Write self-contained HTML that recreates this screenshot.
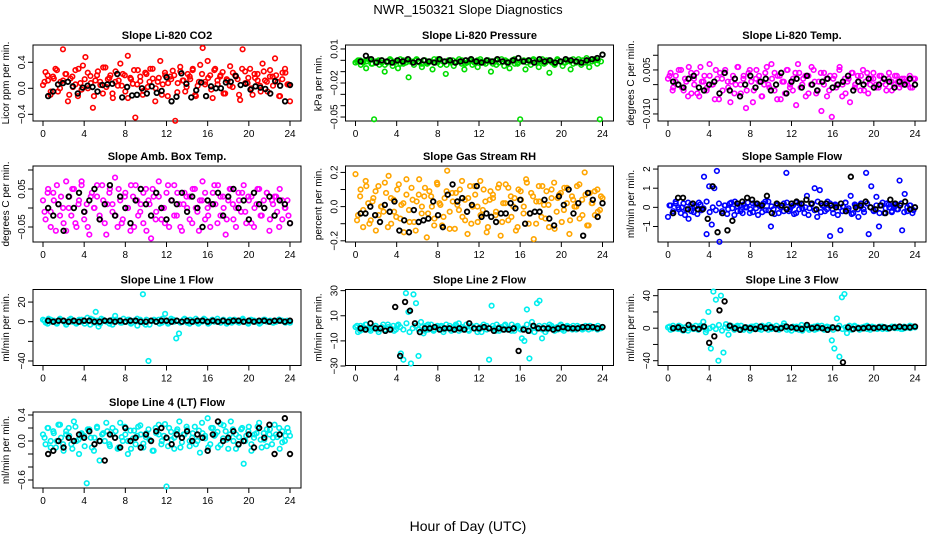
<!DOCTYPE html>
<html><head><meta charset="utf-8"><style>
html,body{margin:0;padding:0;background:#fff}
svg{display:block;font-family:"Liberation Sans",sans-serif}
</style></head><body>
<svg id="chart" width="936" height="540" viewBox="0 0 936 540" xmlns="http://www.w3.org/2000/svg">
<text x="468" y="14" text-anchor="middle" font-size="13">NWR_150321  Slope Diagnostics</text>
<text x="468" y="531" text-anchor="middle" font-size="14">Hour of Day (UTC)</text>
</svg>
<script>
const xTicks=[0,4,8,12,16,20,24];
const titles=["Slope Li-820 CO2","Slope Li-820 Pressure","Slope Li-820 Temp.","Slope Amb. Box Temp.","Slope Gas Stream RH","Slope Sample Flow","Slope Line 1 Flow","Slope Line 2 Flow","Slope Line 3 Flow","Slope Line 4 (LT) Flow"];
const yLabels=["Licor ppm per min.","kPa per min.","degrees C per min.","degrees C per min.","percent per min.","ml/min per min.","ml/min per min.","ml/min per min.","ml/min per min.","ml/min per min."];
const yTicks=[[-0.4,0,0.4],[0.01,0,-0.01,-0.02,-0.03,-0.04,-0.05],[0.01,0.005,0,-0.005,-0.01],[0.1,0.05,0,-0.05],[0.2,0.1,0,-0.1,-0.2],[2,1,0,-1],[20,0,-20,-40],[30,10,-10,-30],[40,20,0,-20,-40],[0.4,0.2,0,-0.2,-0.4,-0.6]];
const yTickLabels=[["−0.4","0.0","0.4"],["0.01","","","−0.02","","","−0.05"],["","0.005","","","−0.010"],["","0.05","","−0.05"],["0.2","","0.0","","−0.2"],["2","1","0","−1"],["20","0","","−40"],["30","10","−10","−30"],["40","","0","","−40"],["0.4","","0.0","","","−0.6"]];
const yMin=[-0.503,-0.0535,-0.0124,-0.0895,-0.207,-1.81,-44.6,-29.6,-45.9,-0.723];
const yMax=[0.666,0.0135,0.0135,0.1105,0.2376,2.16,32.8,30.9,47.6,0.446];
const colors=["#ff0000","#00dd00","#ff00ff","#ff00ff","#ffa500","#0000ff","#00eeee","#00eeee","#00eeee","#00eeee"];
const co2=[0.05,0.25,0.12,-0.1,0.18,0.3,-0.05,0.1,0.6,0.22,-0.2,0.15,0.02,0.28,-0.12,0.08,0.35,0.48,0.0,0.19,-0.3,0.12,0.26,0.05,-0.08,0.32,0.14,0.2,-0.15,0.1,0.04,0.38,0.22,-0.05,0.5,0.16,0.07,-0.45,0.28,0.11,-0.1,0.24,0.02,0.3,0.15,-0.2,0.1,0.42,0.06,0.2,-0.12,0.18,0.27,-0.5,0.08,0.33,0.12,-0.05,0.22,0.14,0.28,-0.1,0.04,0.36,0.62,0.1,0.42,0.2,-0.15,0.3,0.06,0.18,0.25,-0.08,0.12,0.34,0.02,0.2,0.14,-0.18,0.6,0.26,0.08,0.3,-0.1,0.16,0.22,0.04,0.38,0.12,-0.05,0.28,0.18,0.46,0.1,-0.12,0.24,0.3,0.06,-0.2];
const co2B=[0.1,0.2,-0.05,0.15,0.28,0.0,0.12,0.22,-0.1,0.18,0.06,0.3,-0.02,0.14,0.24,0.08,-0.12,0.2,0.1,0.32,0.02,0.16,-0.08,0.26,0.12,0.04,0.2,-0.15,0.14,0.28,0.06,0.18,-0.04,0.22,0.1,0.3,0.0,0.16,-0.1,0.24,0.08,0.14,0.2,-0.06,0.26,0.12,0.02,0.18,0.3,-0.12,0.1,0.22,0.06,0.16,-0.02,0.28,0.12,0.2,-0.08,0.14,0.04,0.24,0.18,-0.1,0.3,0.08,0.16,0.0,0.22,0.12,-0.05,0.26,0.1,0.18,0.04,0.2,-0.12,0.14,0.24,0.06];
const co2Black=[-0.12,-0.05,0.06,0.08,0.1,0.03,-0.08,0.01,0.04,0.02,-0.05,0.05,0.06,0.07,0.22,-0.14,0.02,-0.11,-0.1,0.0,-0.08,0.03,-0.07,-0.04,0.17,-0.2,-0.13,0.23,0.07,-0.14,-0.03,0.09,-0.12,0.03,0.0,0.0,0.09,0.1,0.19,0.05,0.07,-0.02,0.03,0.01,-0.01,-0.08,0.11,0.04,-0.2,0.05];
const press=[-0.002,0.0,-0.004,-0.001,-0.007,0.001,-0.003,-0.052,-0.001,-0.004,0.0,-0.01,-0.002,0.001,-0.005,-0.001,-0.007,-0.003,0.0,-0.002,-0.015,-0.001,-0.004,0.001,-0.002,-0.006,0.0,-0.003,-0.001,-0.008,-0.002,0.001,-0.004,-0.001,-0.012,0.0,-0.002,-0.005,-0.001,0.001,-0.003,-0.008,-0.002,0.0,-0.004,-0.001,-0.006,0.001,-0.002,-0.003,0.0,-0.01,-0.001,-0.004,-0.002,0.001,-0.005,-0.001,-0.007,0.0,-0.003,-0.002,-0.052,-0.001,-0.008,0.0,-0.004,0.001,-0.002,-0.006,-0.001,-0.003,0.0,-0.011,-0.002,-0.004,0.001,-0.001,-0.005,-0.002,0.0,-0.008,-0.003,-0.001,0.001,-0.004,-0.002,0.002,-0.006,-0.001,0.0,-0.003,-0.052,0.005];
const pressB=[-0.001,0.0,-0.002,-0.001,0.001,-0.003,-0.001,0.0,-0.002,-0.004,-0.001,0.0,-0.002,-0.001,0.001,-0.003,0.0,-0.001,-0.002,0.0,-0.001,-0.003,0.0,-0.002,-0.001,0.001,-0.002,0.0,-0.001,-0.004,-0.001,0.0,-0.002,-0.001,0.0,-0.003,-0.001,0.001,-0.002,0.0,-0.001,-0.002,0.0,-0.001,-0.003,0.0,-0.002,-0.001,0.0,-0.002,-0.001,0.001,-0.003,-0.001,0.0,-0.002,-0.001,0.0,-0.002,-0.001,0.001,-0.002,0.0,-0.001,-0.003,0.0,-0.001,-0.002,0.0,-0.001,0.001,-0.002,-0.001,0.0,-0.002,0.0,-0.001,0.001,0.0,-0.001];
const pressBlack=[-0.001,0.004,0.001,-0.002,0.0,-0.001,-0.002,0.0,-0.001,0.001,-0.002,-0.001,0.0,-0.001,-0.002,0.001,-0.001,0.0,-0.002,-0.001,0.0,0.001,-0.001,-0.002,0.0,-0.001,0.001,-0.001,-0.002,0.0,0.002,-0.001,0.0,-0.002,0.001,-0.001,0.0,-0.002,-0.001,0.001,0.0,-0.001,-0.002,0.0,0.001,0.002,0.005];
const temp=[0.002,0.004,-0.001,0.003,0.0,0.005,-0.002,0.001,0.006,-0.003,0.002,0.004,-0.004,0.001,0.003,-0.001,0.007,0.0,-0.005,0.002,0.004,-0.002,0.005,0.001,-0.006,0.003,0.0,0.006,-0.003,0.002,-0.008,0.004,0.001,-0.002,0.005,0.003,-0.004,0.0,0.006,-0.001,0.002,0.004,-0.005,0.003,0.001,-0.003,0.005,0.0,-0.002,0.004,0.007,-0.001,0.002,-0.004,0.003,0.0,0.005,-0.003,0.001,-0.009,0.004,0.002,-0.002,-0.011,0.003,0.0,0.006,-0.004,0.002,0.001,-0.006,0.004,0.0,0.003,-0.002,0.005,0.001,-0.003,0.002,0.004,0.0,-0.001,0.003,0.002,-0.002,0.004,0.001,0.0,0.003,-0.001,0.002,0.001,0.0,0.003,-0.001,0.002];
const tempB=[0.003,-0.002,0.001,0.005,-0.001,0.002,-0.004,0.004,0.0,-0.003,0.006,0.001,-0.002,0.003,0.0,0.005,-0.005,0.002,0.004,-0.001,0.001,-0.003,0.006,0.0,0.003,-0.002,0.005,-0.006,0.002,0.001,-0.004,0.004,0.0,0.007,-0.002,0.003,-0.005,0.001,0.005,-0.001,0.002,-0.007,0.004,0.0,0.003,-0.003,0.006,0.001,-0.002,0.004,0.0,-0.004,0.003,0.002,-0.001,0.005,0.0,-0.003,0.002,0.004,-0.001,0.001,0.003,-0.002,0.004,0.0,0.002,-0.001,0.003,0.001,0.0,0.002,-0.002,0.003,0.001,0.0,0.002,0.001,-0.001,0.002];
const tempBlack=[0.001,0.0,-0.001,0.002,0.003,-0.001,-0.002,0.0,0.001,-0.003,0.004,-0.002,0.002,-0.004,0.0,0.003,-0.001,0.001,0.002,-0.002,0.0,0.004,-0.003,0.001,0.002,-0.001,0.003,0.0,-0.002,0.001,0.002,-0.001,0.0,0.001,0.003,-0.002,0.001,0.0,0.002,-0.001,0.0,0.002,0.001,-0.001,0.001,0.0,0.002,0.0];
const amb=[0.02,-0.03,0.05,-0.01,0.04,-0.06,0.01,0.03,-0.04,0.07,0.0,-0.02,0.05,-0.05,0.02,0.06,-0.03,0.01,-0.07,0.04,0.0,0.03,-0.02,0.06,-0.04,0.01,0.05,-0.01,0.08,-0.05,0.02,-0.03,0.04,0.0,-0.06,0.03,0.06,-0.02,0.01,-0.04,0.05,0.02,-0.08,0.03,-0.01,0.07,-0.03,0.0,0.04,-0.05,0.02,0.06,-0.02,0.01,-0.06,0.04,0.0,0.03,-0.04,0.05,-0.01,0.02,0.07,-0.03,0.0,-0.05,0.04,0.01,0.06,-0.02,0.03,-0.07,0.02,0.05,-0.03,0.0,0.04,-0.01,0.06,-0.04,0.02,0.03,-0.05,0.01,0.05,-0.02,0.0,0.04,-0.06,0.02,0.03,-0.01,0.05,-0.03,0.0,0.02,-0.04];
const ambB=[-0.01,0.04,-0.05,0.02,0.06,-0.02,0.0,-0.06,0.03,0.05,-0.04,0.01,0.07,-0.01,-0.05,0.03,0.0,0.06,-0.03,0.02,-0.07,0.04,0.01,-0.02,0.05,-0.04,0.03,0.0,0.06,-0.05,0.02,-0.01,0.04,-0.06,0.01,0.05,-0.03,0.03,0.0,-0.04,0.06,0.02,-0.02,0.04,-0.05,0.01,0.03,-0.03,0.05,0.0,-0.06,0.02,0.04,-0.02,0.01,0.06,-0.04,0.03,0.0,-0.03,0.05,0.01,-0.05,0.02,0.04,-0.01,0.03,-0.04,0.0,0.05,-0.02,0.02,0.04,-0.03,0.01,0.03,-0.05,0.02,0.0,-0.02];
const ambBlack=[0.0,-0.02,0.01,-0.06,0.03,0.0,0.04,-0.01,0.02,0.05,-0.03,0.01,0.06,-0.02,0.03,0.0,-0.04,0.02,0.05,0.01,-0.02,0.04,0.0,-0.03,0.02,0.01,0.04,-0.01,0.03,0.0,-0.05,0.02,0.01,0.04,-0.02,0.03,0.05,0.0,0.02,-0.03,0.04,0.01,0.0,0.03,-0.02,0.02,0.01,-0.04];
const rh=[0.19,-0.05,0.1,-0.12,0.15,0.02,-0.08,0.05,-0.14,0.12,0.0,-0.03,0.08,0.18,-0.1,0.04,-0.06,0.13,0.01,-0.15,0.07,-0.02,0.11,-0.09,0.03,0.16,-0.04,0.06,-0.18,0.09,0.0,-0.07,0.14,0.02,-0.11,0.05,0.21,-0.03,0.08,-0.13,0.01,0.1,-0.06,0.04,-0.16,0.12,0.0,0.07,-0.09,0.15,-0.02,0.03,-0.12,0.09,0.05,-0.05,0.11,-0.17,0.02,0.13,-0.08,0.06,0.0,-0.14,0.1,0.04,-0.04,0.16,-0.1,0.08,-0.19,0.03,0.12,-0.06,0.01,0.09,-0.12,0.05,0.14,-0.03,0.07,-0.09,0.11,0.02,-0.16,0.06,0.0,0.12,-0.07,0.04,0.2,-0.11,0.08,0.02,-0.05,0.1,-0.02,0.05];
const rhB=[-0.08,0.06,-0.02,0.12,-0.1,0.03,0.09,-0.05,0.0,0.14,-0.12,0.05,-0.03,0.1,-0.07,0.02,0.16,-0.09,0.04,-0.14,0.07,0.0,0.11,-0.04,0.06,-0.11,0.13,0.01,-0.06,0.09,-0.13,0.03,0.08,-0.02,0.15,-0.08,0.05,-0.1,0.12,0.0,-0.05,0.1,-0.15,0.04,0.07,-0.03,0.13,-0.09,0.02,0.11,-0.06,0.05,-0.12,0.09,0.0,0.14,-0.04,0.06,-0.1,0.03,0.12,-0.07,0.01,0.1,-0.13,0.05,0.08,-0.02,0.11,-0.08,0.04,0.0,0.13,-0.05,0.07,-0.11,0.02,0.09,-0.03,0.06];
const rhBlack=[-0.04,-0.04,0.0,-0.05,-0.09,0.01,-0.03,0.03,-0.14,-0.08,-0.15,-0.02,-0.09,-0.08,-0.07,0.03,-0.05,-0.12,0.07,0.13,0.03,0.05,-0.03,0.01,0.12,-0.06,-0.04,-0.06,-0.09,-0.04,-0.04,0.02,-0.01,0.04,-0.1,-0.04,-0.03,-0.03,0.04,-0.07,-0.11,0.06,0.01,0.1,-0.04,0.02,-0.17,0.08,0.04,-0.06,0.02];
const samp=[-0.5,0.1,-0.2,0.3,0.0,-0.3,0.2,-0.1,-0.6,0.15,-0.25,0.05,0.25,-0.15,1.6,-1.4,1.1,-0.9,1.0,1.9,-1.8,-0.2,0.1,-0.35,0.2,-0.05,0.3,-0.2,0.1,-0.3,0.0,0.25,-0.1,-0.25,0.15,-0.4,0.05,0.2,-0.15,0.3,-1.0,-0.1,0.1,-0.3,0.0,0.2,1.8,-0.2,0.05,-0.35,0.25,-0.1,0.15,-0.3,0.6,-0.05,0.2,1.0,-0.5,0.9,0.1,-0.2,0.3,-1.5,-0.1,0.15,-0.4,-1.2,0.05,0.25,-0.15,0.6,-0.3,0.1,-0.5,0.2,-0.1,1.8,-1.4,1.1,-0.2,0.55,-1.0,0.1,-0.3,0.2,0.0,-0.25,0.15,-0.1,1.4,-1.2,0.7,-0.2,0.1,-0.3,0.0];
const sampB=[0.1,-0.3,0.2,-0.1,0.0,-0.4,0.25,-0.2,0.05,-0.35,0.15,-0.05,0.3,-0.25,0.0,-0.15,0.2,-0.3,0.1,-0.1,0.25,-0.4,0.05,-0.2,0.15,0.0,-0.3,0.2,-0.05,0.1,-0.25,0.3,-0.15,0.05,-0.35,0.15,0.0,-0.2,0.25,-0.1,0.1,-0.3,0.2,-0.05,0.0,-0.4,0.15,-0.15,0.3,-0.25,0.05,-0.1,0.2,-0.3,0.1,0.0,-0.2,0.25,-0.05,-0.35,0.15,-0.1,0.05,-0.25,0.2,0.0,-0.15,0.1,-0.3,0.25,-0.05,0.15,-0.2,0.05,-0.1,0.2,-0.25,0.0,0.1,-0.15];
const sampBlack=[-0.3,0.5,0.5,-0.1,0.2,-0.1,-0.1,-0.6,1.1,-1.3,-0.3,-1.2,-0.7,0.2,0.3,0.5,0.4,0.2,0.1,0.6,-0.3,0.2,0.1,-0.1,0.2,0.3,0.2,0.4,0.2,-0.1,0.2,0.2,0.1,0.0,0.2,-0.2,1.6,0.0,0.1,0.3,0.0,-0.1,0.1,-0.3,0.4,0.2,0.1,0.3,-0.1,0.0];
const line1=[2,-1,3,0,1,-2,2,1,-1,0,3,1,-2,2,0,1,4,-3,2,10,-5,3,1,0,-2,2,6,1,-1,3,0,2,-1,1,-4,2,28,-3,-40,1,2,0,-2,3,8,-1,1,2,-17,-12,0,3,-1,2,1,0,-2,1,3,0,-1,2,1,0,-1,2,0,1,-1,2,0,1,3,0,-1,2,1,0,-2,1,2,0,1,-1,0,2,1,0,1,-1];
const line1B=[1,-2,2,0,-1,3,1,-3,2,0,-1,1,2,-2,0,3,-1,1,-2,2,0,1,-3,2,1,-1,0,2,-2,1,3,0,-1,2,-3,1,0,2,-1,1,-2,3,0,1,-1,2,0,-2,1,3,-1,0,2,-2,1,0,3,-1,1,-2,2,0,1,-1,2,0,-2,1,1,0,-1,2,0,1,-1,0,2,1,-1,0];
const line1Black=[1,0,1,1,0,1,0,1,1,0,0,1,1,0,1,0,1,1,0,0,1,0,1,1,0,1,0,1,0,1,1,0,1,0,1,0,1,1,0,1,0,1,1,0,1,1,0,1];
const line2=[1,-3,2,-1,3,0,-2,1,2,-1,0,3,-2,1,0,2,-1,3,-20,-25,28,13,-28,27,20,-22,5,-4,2,-1,3,-2,1,0,2,-1,3,0,-2,1,2,4,-1,0,3,-2,1,0,2,-1,-3,1,2,-25,18,0,3,-2,1,2,-1,0,3,-2,1,0,-8,-10,15,-24,5,-3,20,22,-8,2,-1,3,0,-2,1,2,-1,0,2,1,-1,0,2,1,-1,0,1,2,0,1,-1,0,1];
const line2B=[2,-2,1,3,-1,0,2,-3,1,-1,3,0,-2,2,1,-1,4,-3,0,2,-1,1,-2,3,0,-1,2,1,-3,0,2,-1,3,-2,1,0,-1,2,0,-3,1,3,-1,0,2,-2,1,-1,3,0,-2,1,2,-1,0,3,-2,1,0,2,-1,-3,1,2,0,-1,3,-2,1,0,2,-1,1,0,2,-1,0,1,2,0];
const line2Black=[0,-1,4,0,0,-2,-1,17,-22,21,14,4,-3,0,0,1,-1,0,0,-1,0,-1,4,0,0,1,0,-2,0,-1,-1,0,-18,-1,-2,2,0,0,0,-1,0,1,0,0,0,1,1,1,0,1];
const line3=[1,-2,3,0,-1,2,-3,1,0,2,-1,3,-2,1,8,-5,20,-25,45,35,-40,40,-30,5,-8,3,0,2,-1,3,-2,1,0,2,-1,3,0,-2,1,2,4,-1,0,3,-2,1,6,2,-1,-3,1,2,-2,4,0,3,-2,1,2,-1,0,3,-2,1,0,-15,-25,12,-35,38,42,-6,3,-1,3,0,-2,1,2,-1,0,2,1,-1,0,2,1,-1,0,1,2,0,1,-1,0,1,3,2,1];
const line3B=[2,-1,0,3,-2,1,-3,2,0,-1,3,1,-2,0,2,-1,4,-3,1,0,2,-2,3,-1,0,1,-3,2,0,-1,3,1,-2,2,0,-1,1,3,-2,0,2,-1,1,-3,2,0,1,-2,3,0,-1,2,1,-2,0,3,-1,1,0,-2,2,1,-1,0,3,-2,1,0,2,-1,1,0,2,0,1,-1,2,1,0,2];
const line3Black=[0,1,-2,4,0,-1,2,-18,-10,22,33,3,0,-2,1,0,-1,2,0,1,-1,0,2,1,0,-1,4,0,1,0,-2,1,0,-42,1,-1,0,0,1,0,1,1,0,1,2,1,1,2];
const line4=[0.1,-0.05,0.2,0.0,0.15,-0.1,0.25,0.05,-0.15,0.1,0.2,-0.05,0.3,0.0,-0.2,0.12,0.08,-0.65,0.18,-0.1,0.05,0.22,-0.3,0.1,0.0,0.15,-0.08,0.2,0.05,-0.12,0.28,0.0,0.1,-0.2,0.16,0.04,-0.05,0.22,0.1,-0.1,0.06,0.18,0.0,-0.15,0.12,0.25,-0.05,0.08,-0.7,0.2,0.02,-0.12,0.15,0.3,-0.02,0.1,0.18,-0.08,0.05,0.22,0.0,-0.18,0.12,0.08,0.35,-0.05,0.2,0.1,-0.1,0.26,0.04,0.15,-0.12,0.3,0.0,0.1,-0.06,0.18,-0.35,0.08,0.22,-0.15,0.05,0.12,0.28,-0.1,0.02,0.18,0.1,-0.05,0.25,0.06,-0.12,0.15,0.0,0.2,0.08];
const line4B=[0.05,0.2,-0.1,0.12,0.0,0.25,-0.05,0.15,0.08,-0.12,0.22,0.02,0.1,-0.08,0.18,0.05,-0.15,0.2,0.0,0.12,0.28,-0.05,0.1,0.15,-0.1,0.06,0.22,0.0,-0.12,0.16,0.08,0.24,-0.04,0.12,0.02,-0.15,0.2,0.1,0.0,0.26,-0.08,0.14,0.05,0.18,-0.1,0.1,0.22,0.0,0.12,-0.05,0.16,0.28,0.04,-0.1,0.2,0.08,0.14,-0.06,0.24,0.02,0.1,0.18,-0.12,0.06,0.2,0.0,0.15,-0.05,0.1,0.22,0.02,0.12,-0.08,0.18,0.05,0.1,0.2,-0.02,0.08,0.14];
const line4Black=[-0.2,-0.15,0.0,-0.1,0.05,0.0,0.1,0.05,0.15,-0.05,0.0,-0.3,0.1,0.05,-0.1,0.2,0.0,0.05,-0.1,0.1,0.0,0.15,0.2,0.05,-0.05,0.1,0.05,0.15,0.0,0.1,0.05,-0.15,0.1,0.3,0.0,0.05,0.15,-0.05,0.0,0.1,-0.1,0.2,0.05,0.25,-0.2,0.1,0.35,-0.2];
const colored=[co2,press,temp,amb,rh,samp,line1,line2,line3,line4];
const coloredB=[co2B,pressB,tempB,ambB,rhB,sampB,line1B,line2B,line3B,line4B];
const blacks=[co2Black,pressBlack,tempBlack,ambBlack,rhBlack,sampBlack,line1Black,line2Black,line3Black,line4Black];

const NS="http://www.w3.org/2000/svg";
const svg=document.getElementById('chart');
const colLeft=[33,345.5,658], rowTop=[45,166,289.5,412], BW=268, BH=76;
function mk(tag,attrs,parent){const e=document.createElementNS(NS,tag);for(const k in attrs)e.setAttribute(k,attrs[k]);parent.appendChild(e);return e;}
for(let p=0;p<10;p++){
  const L=colLeft[p%3], T=rowTop[Math.floor(p/3)];
  const g=mk('g',{},svg);
  
  
  const xs=h=>L+10+h*(BW-21)/24;
  const ys=v=>T+BH-(v-yMin[p])/(yMax[p]-yMin[p])*BH;
  const box=mk('rect',{x:L,y:T,width:BW,height:BH,fill:'none',stroke:'#000','stroke-width':1},g);
  
  
  const t=mk('text',{x:L+BW/2,y:T-6,'text-anchor':'middle','font-size':11,'font-weight':'bold'},g);
  t.textContent=titles[p];
  
  
  const yl=mk('text',{transform:`translate(${L-24},${T+BH/2}) rotate(-90)`,'text-anchor':'middle','font-size':10},g);
  yl.textContent=yLabels[p];
  
  
  xTicks.forEach(h=>{
    mk('line',{x1:xs(h),x2:xs(h),y1:T+BH,y2:T+BH+5,stroke:'#000'},g);
    const tl=mk('text',{x:xs(h),y:T+BH+16,'text-anchor':'middle','font-size':10},g);
    tl.textContent=String(h);
    
    
  });
  const yt=yTicks[p];
  yt.forEach((v,i)=>{
    mk('line',{x1:L-5,x2:L,y1:ys(v),y2:ys(v),stroke:'#000'},g);
    const lab=yTickLabels[p][i];
    if(lab){
      const tl=mk('text',{transform:`translate(${L-8},${ys(v)}) rotate(-90)`,'text-anchor':'middle','font-size':10},g);
      tl.textContent=lab;
      
      
    }
  });
  const cs=colored[p];
  cs.forEach((v,i)=>{
    const c=mk('circle',{cx:xs(i*24/(cs.length-1)),cy:ys(v),r:2.3,fill:'none',stroke:colors[p],'stroke-width':1.6},g);
    
    
  });
  const cb=coloredB[p];
  cb.forEach((v,i)=>{
    const c=mk('circle',{cx:xs(0.15+i*23.7/(cb.length-1)),cy:ys(v),r:2.3,fill:'none',stroke:colors[p],'stroke-width':1.6},g);
    
    
  });
  const bs=blacks[p];
  bs.forEach((v,i)=>{
    const c=mk('circle',{cx:xs(0.5+i*23.5/(bs.length-1)),cy:ys(v),r:2.3,fill:'none',stroke:'#000','stroke-width':1.8},g);
    
    
  });
}
</script>
</body></html>
